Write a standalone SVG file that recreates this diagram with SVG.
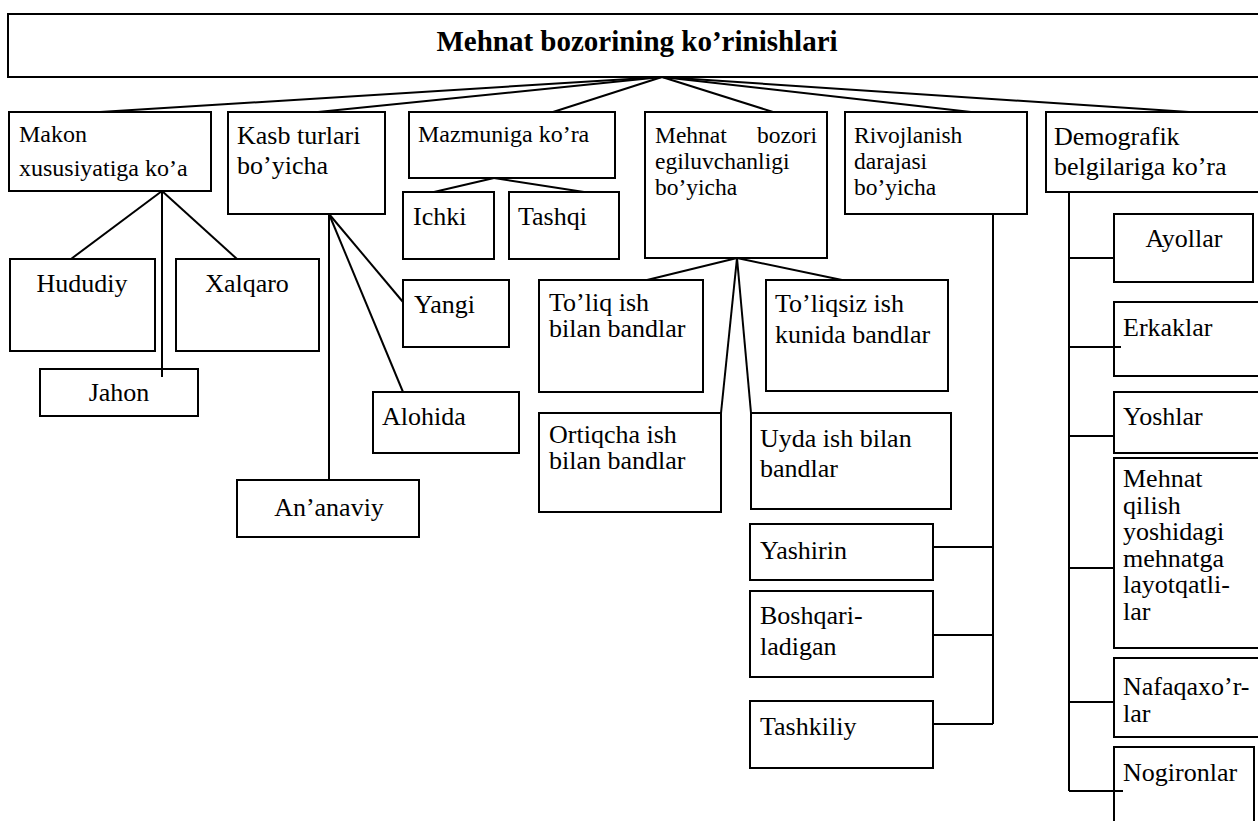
<svg xmlns="http://www.w3.org/2000/svg" width="1258" height="821" viewBox="0 0 1258 821">
<style>
rect{fill:#fff;stroke:#000;stroke-width:2}
#connectors line{stroke:#000;stroke-width:2;fill:none}
text{font-family:"Liberation Serif","Times New Roman",serif;fill:#000;font-size:26px}
.s24{font-size:24px}
.s23{font-size:23.5px}
.title{font-size:29px;font-weight:bold}
.mid{text-anchor:middle}
</style>
<rect x="0" y="0" width="1258" height="821" style="stroke:none;fill:#fff"/>
<g id="root"><rect x="8" y="14" width="1262" height="63"/><text class="title mid" x="637" y="51">Mehnat bozorining ko’rinishlari</text></g>
<g id="makon"><rect x="9" y="112" width="202" height="79"/><text class="s24" x="19" y="142">Makon</text><text class="s24" x="19" y="176">xususiyatiga ko’a</text></g>
<g id="kasb"><rect x="228" y="112" width="157" height="102"/><text x="237" y="144">Kasb turlari</text><text x="237" y="174">bo’yicha</text></g>
<g id="mazmun"><rect x="409" y="112" width="206" height="66"/><text class="s24" x="418" y="142">Mazmuniga ko’ra</text></g>
<g id="egil"><rect x="645" y="112" width="182" height="146"/><text class="s23" x="655" y="143">Mehnat</text><text class="s23" x="817" y="143" style="text-anchor:end">bozori</text><text class="s23" x="655" y="169">egiluvchanligi</text><text class="s23" x="655" y="195">bo’yicha</text></g>
<g id="rivoj"><rect x="845" y="112" width="182" height="102"/><text class="s23" x="854" y="143">Rivojlanish</text><text class="s23" x="854" y="169">darajasi</text><text class="s23" x="854" y="195">bo’yicha</text></g>
<g id="demog"><rect x="1046" y="112" width="214" height="80"/><text x="1054" y="145">Demografik</text><text x="1054" y="175">belgilariga ko’ra</text></g>
<g id="hududiy"><rect x="10" y="259" width="145" height="92"/><text class="mid" x="82" y="292">Hududiy</text></g>
<g id="xalqaro"><rect x="176" y="259" width="143" height="92"/><text class="mid" x="247" y="292">Xalqaro</text></g>
<g id="jahon"><rect x="40" y="369" width="158" height="47"/><text class="mid" x="119" y="401">Jahon</text></g>
<g id="ichki"><rect x="403" y="192" width="91" height="67"/><text x="413" y="225">Ichki</text></g>
<g id="tashqi"><rect x="509" y="192" width="110" height="67"/><text x="518" y="225">Tashqi</text></g>
<g id="yangi"><rect x="403" y="280" width="106" height="67"/><text x="414" y="313">Yangi</text></g>
<g id="alohida"><rect x="373" y="392" width="146" height="61"/><text x="382" y="425">Alohida</text></g>
<g id="ananaviy"><rect x="237" y="480" width="182" height="57"/><text class="mid" x="329" y="516">An’anaviy</text></g>
<g id="toliq"><rect x="539" y="280" width="164" height="112"/><text x="549" y="311">To’liq ish</text><text x="549" y="337">bilan bandlar</text></g>
<g id="toliqsiz"><rect x="766" y="280" width="182" height="111"/><text x="775" y="312">To’liqsiz ish</text><text x="775" y="343">kunida bandlar</text></g>
<g id="ortiqcha"><rect x="539" y="413" width="182" height="99"/><text x="549" y="443">Ortiqcha ish</text><text x="549" y="469">bilan bandlar</text></g>
<g id="uyda"><rect x="751" y="413" width="200" height="96"/><text x="760" y="447">Uyda ish bilan</text><text x="760" y="477">bandlar</text></g>
<g id="yashirin"><rect x="750" y="524" width="183" height="56"/><text x="760" y="559">Yashirin</text></g>
<g id="boshqari"><rect x="750" y="591" width="183" height="86"/><text x="760" y="624">Boshqari-</text><text x="760" y="655">ladigan</text></g>
<g id="tashkiliy"><rect x="750" y="701" width="183" height="67"/><text x="760" y="735">Tashkiliy</text></g>
<g id="ayollar"><rect x="1114" y="214" width="139" height="68"/><text class="mid" x="1184" y="247">Ayollar</text></g>
<g id="erkaklar"><rect x="1114" y="302" width="150" height="74"/><text x="1123" y="336">Erkaklar</text></g>
<g id="yoshlar"><rect x="1114" y="392" width="150" height="61"/><text x="1123" y="425">Yoshlar</text></g>
<g id="mehnatqilish"><rect x="1114" y="458" width="150" height="190"/><text x="1123" y="487">Mehnat</text><text x="1123" y="514">qilish</text><text x="1123" y="540">yoshidagi</text><text x="1123" y="567">mehnatga</text><text x="1123" y="593">layotqatli-</text><text x="1123" y="620">lar</text></g>
<g id="nafaqa"><rect x="1114" y="658" width="150" height="79"/><text x="1123" y="695">Nafaqaxo’r-</text><text x="1123" y="722">lar</text></g>
<g id="nogiron"><rect x="1114" y="747" width="140" height="90"/><text x="1123" y="781">Nogironlar</text></g>
<g id="connectors">
<line x1="662" y1="77" x2="100" y2="112"/>
<line x1="662" y1="77" x2="318" y2="112"/>
<line x1="662" y1="77" x2="553" y2="112"/>
<line x1="662" y1="77" x2="773" y2="112"/>
<line x1="662" y1="77" x2="971" y2="112"/>
<line x1="662" y1="77" x2="1189" y2="112"/>
<line x1="162" y1="191" x2="71" y2="259"/>
<line x1="162" y1="191" x2="237" y2="259"/>
<line x1="162" y1="191" x2="162" y2="377"/>
<line x1="329" y1="214" x2="403" y2="302"/>
<line x1="329" y1="214" x2="403" y2="392"/>
<line x1="329" y1="214" x2="329" y2="480"/>
<line x1="494" y1="178" x2="434" y2="192"/>
<line x1="494" y1="178" x2="584" y2="192"/>
<line x1="737" y1="258" x2="647" y2="280"/>
<line x1="737" y1="258" x2="842" y2="280"/>
<line x1="737" y1="258" x2="721" y2="413"/>
<line x1="737" y1="258" x2="751" y2="413"/>
<line x1="993" y1="214" x2="993" y2="724"/>
<line x1="933" y1="547" x2="993" y2="547"/>
<line x1="933" y1="635" x2="993" y2="635"/>
<line x1="933" y1="724" x2="993" y2="724"/>
<line x1="1069" y1="192" x2="1069" y2="791"/>
<line x1="1069" y1="258" x2="1114" y2="258"/>
<line x1="1069" y1="347" x2="1121" y2="347"/>
<line x1="1069" y1="436" x2="1114" y2="436"/>
<line x1="1069" y1="568" x2="1114" y2="568"/>
<line x1="1069" y1="702" x2="1114" y2="702"/>
<line x1="1069" y1="791" x2="1123" y2="791"/>
</g>
</svg>
